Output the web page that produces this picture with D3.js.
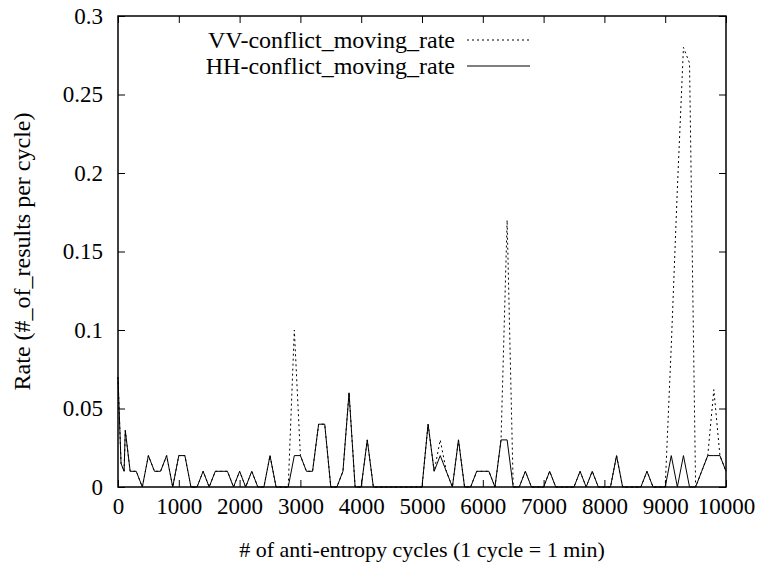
<!DOCTYPE html>
<html>
<head>
<meta charset="utf-8">
<script src="https://cdn.jsdelivr.net/npm/d3@7"></script>
<style>
  body { margin: 0; background: #fff; }
  .line { fill: none; stroke: #000; stroke-width: 1; }
  .vv { stroke-dasharray: 2,3; }
  .frame { fill: none; stroke: #000; stroke-width: 1.5; }
</style>
</head>
<body>
<div id="chart"></div>
<script>
// sample positions (anti-entropy cycles)
var cycles = [0, 50, 100, 120, 200, 300, 400, 500, 600, 700, 800, 900, 1000,
  1100, 1200, 1300, 1400, 1500, 1600, 1700, 1800, 1900, 2000,
  2100, 2200, 2300, 2400, 2500, 2600, 2700, 2800, 2900, 3000,
  3100, 3200, 3300, 3400, 3500, 3600, 3700, 3800, 3900, 4000,
  4100, 4200, 4300, 4400, 4500, 4600, 4700, 4800, 4900, 5000,
  5100, 5200, 5300, 5400, 5500, 5600, 5700, 5800, 5900, 6000,
  6100, 6200, 6300, 6400, 6500, 6600, 6700, 6800, 6900, 7000,
  7100, 7200, 7300, 7400, 7500, 7600, 7700, 7800, 7900, 8000,
  8100, 8200, 8300, 8400, 8500, 8600, 8700, 8800, 8900, 9000,
  9100, 9200, 9300, 9400, 9500, 9600, 9700, 9800, 9900, 10000];

// HH-conflict_moving_rate
var hhRate = [0.07, 0.015, 0.01, 0.036, 0.01, 0.01, 0, 0.02, 0.01, 0.01, 0.02, 0, 0.02,
  0.02, 0, 0, 0.01, 0, 0.01, 0.01, 0.01, 0, 0.01,
  0, 0.01, 0, 0, 0.02, 0, 0, 0, 0.02, 0.02,
  0.01, 0.01, 0.04, 0.04, 0, 0, 0.01, 0.06, 0, 0,
  0.03, 0, 0, 0, 0, 0, 0, 0, 0, 0,
  0.04, 0.01, 0.02, 0.01, 0, 0.03, 0, 0, 0.01, 0.01,
  0.01, 0, 0.03, 0.03, 0, 0, 0.01, 0, 0, 0,
  0.01, 0, 0, 0, 0, 0.01, 0, 0.01, 0, 0,
  0, 0.02, 0, 0, 0, 0, 0.01, 0, 0, 0,
  0.02, 0, 0.02, 0, 0, 0.01, 0.02, 0.02, 0.02, 0.01];

// VV-conflict_moving_rate
var vvRate = [0.07, 0.015, 0.01, 0.036, 0.01, 0.01, 0, 0.02, 0.01, 0.01, 0.02, 0, 0.02,
  0.02, 0, 0, 0.01, 0, 0.01, 0.01, 0.01, 0, 0.01,
  0, 0.01, 0, 0, 0.02, 0, 0, 0, 0.1, 0.02,
  0.01, 0.01, 0.04, 0.04, 0, 0, 0.01, 0.06, 0, 0,
  0.03, 0, 0, 0, 0, 0, 0, 0, 0, 0,
  0.04, 0.01, 0.03, 0.01, 0, 0.03, 0, 0, 0.01, 0.01,
  0.01, 0, 0.03, 0.17, 0, 0, 0.01, 0, 0, 0,
  0.01, 0, 0, 0, 0, 0.01, 0, 0.01, 0, 0,
  0, 0.02, 0, 0, 0, 0, 0.01, 0, 0, 0,
  0.09, 0.19, 0.28, 0.27, 0, 0.01, 0.02, 0.062, 0.02, 0.01];

var xTicks = [0, 1000, 2000, 3000, 4000, 5000, 6000, 7000, 8000, 9000, 10000];
var yTicks = [0, 0.05, 0.1, 0.15, 0.2, 0.25, 0.3];

var legendKeys = ["VV-conflict_moving_rate", "HH-conflict_moving_rate"];

function lineChart(){
    var w = 757;
    var h = 565;
    var left = 118, right = 726, top = 16, bottom = 487;
    var fontSize = 24;
    var tickFontSize = 23;
    var font = "'Liberation Serif', 'Times New Roman', 'DejaVu Serif', serif";

    var dataset = cycles.map(function(c, i){
        return { cycle: c, hh: hhRate[i], vv: vvRate[i] };
    });

    var xScale = d3.scaleLinear().domain([0, 10000]).range([left, right]);
    var yScale = d3.scaleLinear().domain([0, 0.3]).range([bottom, top]);

    var svg = d3.select("#chart")
                .append("svg")
                .attr("width", w)
                .attr("height", h)
                .attr("font-family", font)
                .attr("font-size", fontSize);

    var lineVV = d3.line()
        .x(function(d) { return xScale(d.cycle); })
        .y(function(d) { return yScale(d.vv); });
    var lineHH = d3.line()
        .x(function(d) { return xScale(d.cycle); })
        .y(function(d) { return yScale(d.hh); });

    svg.append("path")
        .datum(dataset)
        .attr("class", "line vv")
        .attr("d", lineVV);

    svg.append("path")
        .datum(dataset)
        .attr("class", "line hh")
        .attr("d", lineHH);

    // axes with inward ticks, mirrored on top and right
    var xAxis = d3.axisBottom(xScale).tickValues(xTicks)
        .tickSizeInner(-7).tickSizeOuter(0).tickPadding(11)
        .tickFormat(d3.format("d"));
    var yAxis = d3.axisLeft(yScale).tickValues(yTicks)
        .tickSizeInner(-7).tickSizeOuter(0).tickPadding(15)
        .tickFormat(function(d){ return d === 0 ? "0" : String(+d.toFixed(2)); });

    var axes = [];
    axes.push(svg.append("g")
        .attr("transform", "translate(0," + bottom + ")")
        .call(xAxis));
    axes.push(svg.append("g")
        .attr("transform", "translate(" + left + ",0)")
        .call(yAxis));
    axes.push(svg.append("g")
        .attr("transform", "translate(0," + top + ")")
        .call(d3.axisTop(xScale).tickValues(xTicks).tickSizeInner(-7).tickSizeOuter(0).tickFormat("")));
    axes.push(svg.append("g")
        .attr("transform", "translate(" + right + ",0)")
        .call(d3.axisRight(yScale).tickValues(yTicks).tickSizeInner(-7).tickSizeOuter(0).tickFormat("")));

    // d3 axes set their own font; put ours back
    axes.forEach(function(g){
        g.attr("font-family", font).attr("font-size", tickFontSize);
    });
    svg.selectAll(".domain").remove();
    svg.selectAll(".tick line").attr("stroke", "#000").attr("stroke-width", 1);

    svg.append("rect")
        .attr("class", "frame")
        .attr("x", left)
        .attr("y", top)
        .attr("width", right - left)
        .attr("height", bottom - top);

    // axis labels
    svg.append("text")
        .attr("text-anchor", "middle")
        .attr("x", (left + right) / 2)
        .attr("y", 557)
        .attr("font-size", 22)
        .text("# of anti-entropy cycles (1 cycle = 1 min)");

    svg.append("text")
        .attr("text-anchor", "middle")
        .attr("transform", "translate(30," + ((top + bottom) / 2) + ") rotate(-90)")
        .text("Rate (#_of_results per cycle)");

    // legend
    var legend = svg.append("g");
    legendKeys.forEach(function(k, i){
        var y = 40 + i * 26;
        legend.append("text")
            .attr("x", 455)
            .attr("y", y)
            .attr("dy", "0.35em")
            .attr("text-anchor", "end")
            .text(k);
        legend.append("line")
            .attr("class", i === 0 ? "line vv" : "line hh")
            .attr("x1", 467)
            .attr("x2", 530)
            .attr("y1", y)
            .attr("y2", y);
    });
}

lineChart();
</script>
</body>
</html>
